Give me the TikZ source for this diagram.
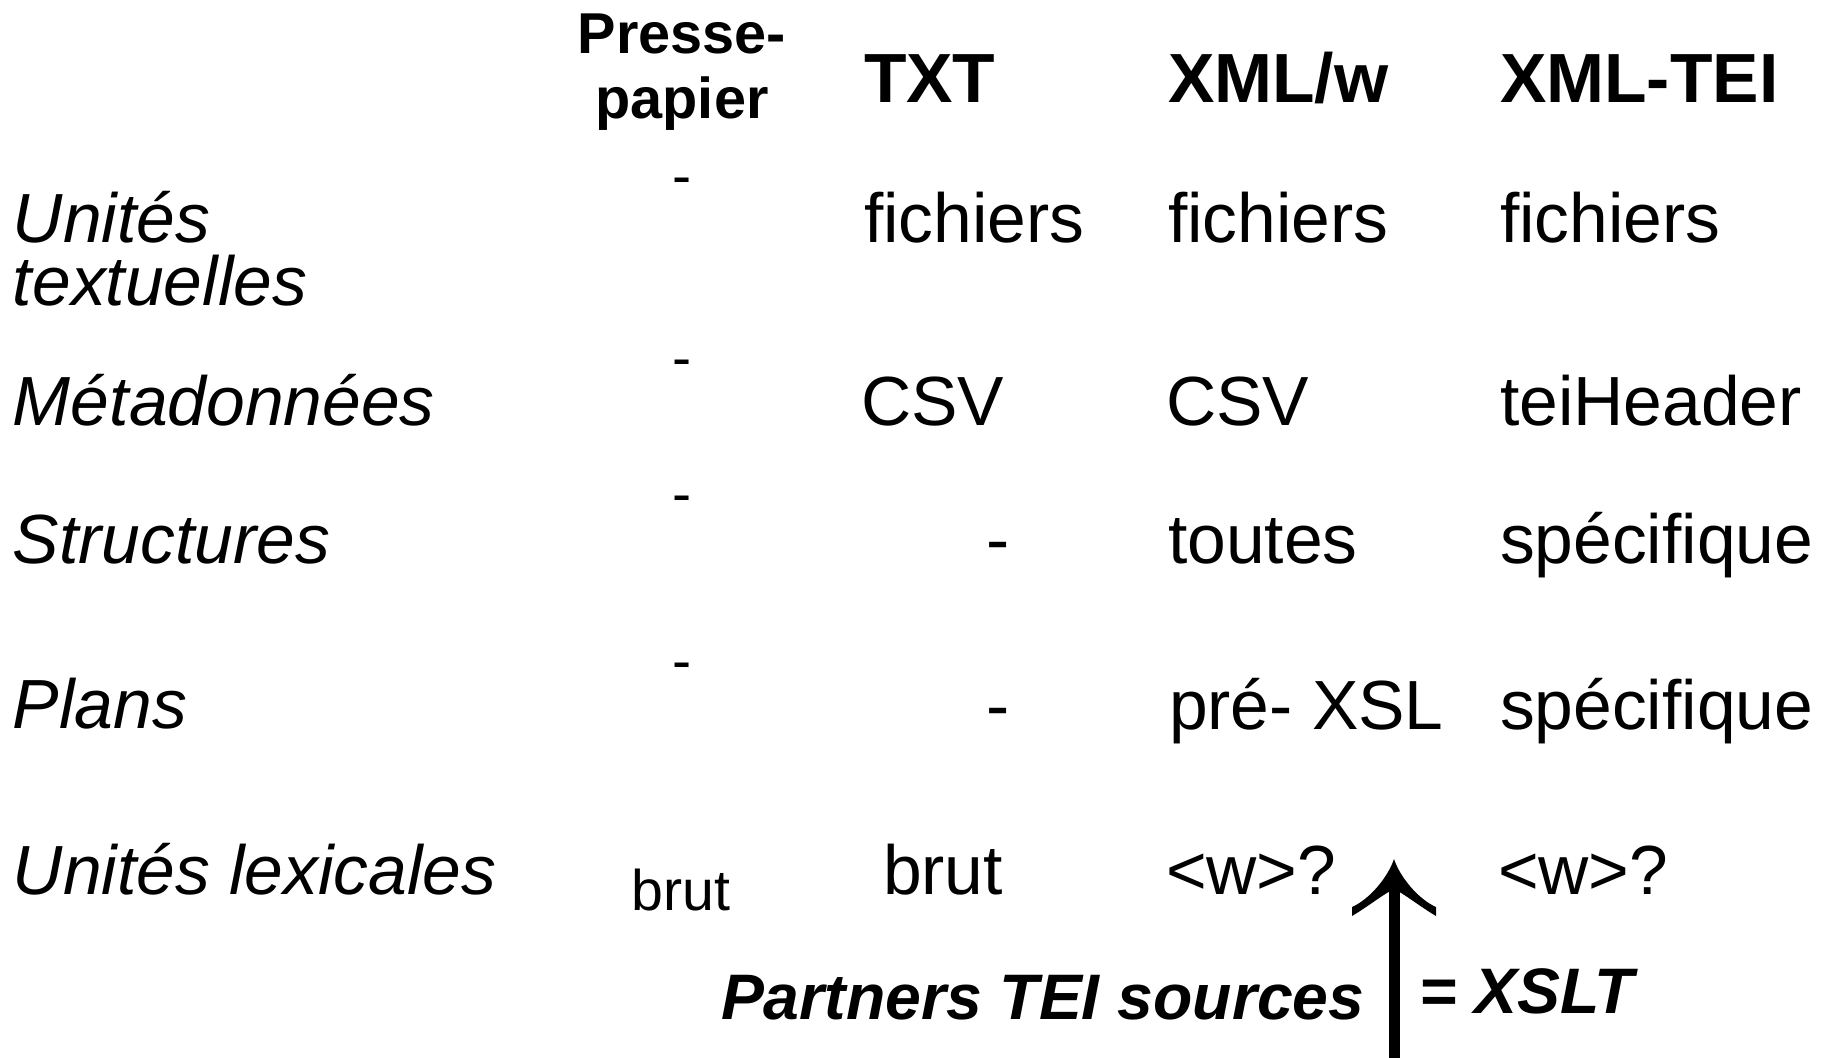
\documentclass[tikz,border=0pt]{standalone}
\usepackage{fontspec}
\setmainfont{Liberation Sans}
\usetikzlibrary{calc}
\begin{document}
\begin{tikzpicture}[x=0.1mm,y=-0.1mm]
\tikzset{
  cell/.style={inner sep=0pt, outer sep=0pt, anchor=base west, font=\fontsize{19.8pt}{19.8pt}\selectfont},
  rowlbl/.style={cell, font=\fontsize{19.8pt}{19.8pt}\selectfont\itshape},
  colhdr/.style={cell, font=\fontsize{19.8pt}{19.8pt}\selectfont\bfseries},
  pphdr/.style={inner sep=0pt, outer sep=0pt, anchor=base, font=\fontsize{16.4pt}{16.4pt}\selectfont\bfseries},
  ppcell/.style={inner sep=0pt, outer sep=0pt, anchor=base, font=\fontsize{16.3pt}{16.3pt}\selectfont},
  dashcell/.style={inner sep=0pt, outer sep=0pt, anchor=base, font=\fontsize{19.8pt}{19.8pt}\selectfont},
  note/.style={inner sep=0pt, outer sep=0pt, anchor=base west, font=\fontsize{18.3pt}{18.3pt}\selectfont\bfseries\itshape},
  shaft/.style={line width=1.1mm},
}
\useasboundingbox (0,0) rectangle (1827,1058);
% headers
\node[pphdr] (hdrPresse) at (682,53) {Presse-};
\node[pphdr] (hdrPapier) at (682,118) {papier};
\node[colhdr] (hdrTXT) at (864,102) {TXT};
\node[colhdr] (hdrXMLw) at (1168,102) {XML/w};
\node[colhdr] (hdrTEI) at (1500,102) {XML-TEI};
% row labels
\node[rowlbl] (lblUnites) at (13,242) {Unités};
\node[rowlbl] (lblTextuelles) at (13,305) {textuelles};
\node[rowlbl] (lblMeta) at (13,425) {Métadonnées};
\node[rowlbl] (lblStruct) at (13,563) {Structures};
\node[rowlbl] (lblPlans) at (13,728) {Plans};
\node[rowlbl] (lblLex) at (13,894) {Unités lexicales};
% Presse-papier column
\node[ppcell] (ppA) at (682,195) {-};
\node[ppcell] (ppB) at (682,377.5) {-};
\node[ppcell] (ppC) at (682,513.5) {-};
\node[ppcell] (ppD) at (682,680.5) {-};
\node[ppcell] (ppE) at (681,910) {brut};
% TXT column
\node[cell] (txtA) at (864,242) {fichiers};
\node[cell] (txtB) at (861,425) {CSV};
\node[dashcell] (txtC) at (998,563) {-};
\node[dashcell] (txtD) at (998,729) {-};
\node[cell] (txtE) at (883,894) {brut};
% XML/w column
\node[cell] (xwA) at (1168,242) {fichiers};
\node[cell] (xwB) at (1166,425) {CSV};
\node[cell] (xwC) at (1168,563) {toutes};
\node[cell] (xwD) at (1169,729) {pré- XSL};
\node[cell] (xwE) at (1166,894) {<w>?};
% XML-TEI column
\node[cell] (teA) at (1500,242) {fichiers};
\node[cell] (teB) at (1500,425) {teiHeader};
\node[cell] (teC) at (1500,563) {spécifique};
\node[cell] (teD) at (1500,729) {spécifique};
\node[cell] (teE) at (1498,894) {<w>?};
% bottom notes
\node[note] (partners) at (721,1019) {Partners TEI sources};
\node[note] (xslt) at (1419,1013) {= XSLT};
% arrow
\coordinate (arrowtip) at (1394,859);
\coordinate (arrowbot) at (1394,1058);
\draw[shaft] (arrowbot) -- ($(arrowtip)+(0,25)$);
\fill[shift={(arrowtip)}] (0,0) .. controls (-6,18) and (-24,40) .. (-42,48)
  -- (-42,57) .. controls (-30,50) and (-14,38) .. (-5.5,33)
  -- (5.5,33) .. controls (14,38) and (30,50) .. (42,57)
  -- (42,48) .. controls (24,40) and (6,18) .. (0,0) -- cycle;
\end{tikzpicture}
\end{document}
